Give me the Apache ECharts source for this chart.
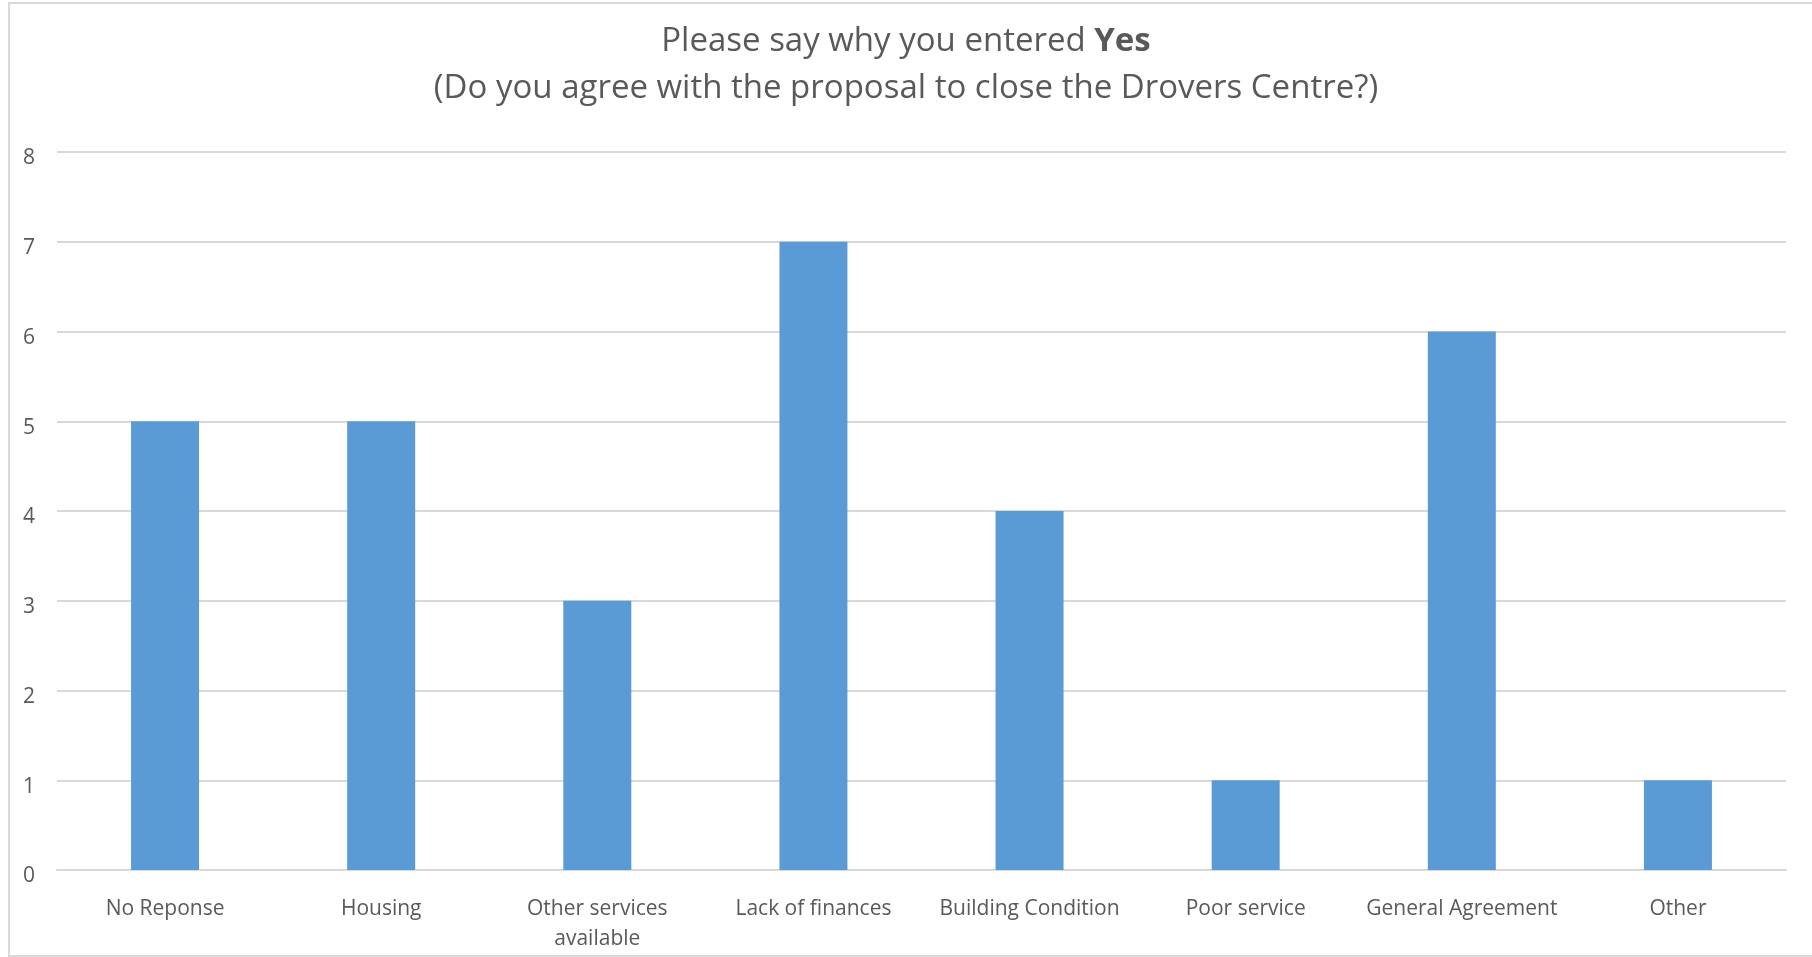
<!DOCTYPE html>
<html>
<head>
<meta charset="utf-8">
<script src="https://cdn.jsdelivr.net/npm/echarts@6/dist/echarts.min.js"></script>
<style>
html,body{margin:0;padding:0;background:#fff;}
#chart{width:1812px;height:957px;}
</style>
</head>
<body>
<div id="chart"></div>
<script>
const categories = ['No Reponse', 'Housing', 'Other services\navailable', 'Lack of finances', 'Building Condition', 'Poor service', 'General Agreement', 'Other'];
const values = [5, 5, 3, 7, 4, 1, 6, 1];
const titleLine1 = 'Please say why you entered ';
const titleBold = 'Yes';
const titleLine2 = '(Do you agree with the proposal to close the Drovers Centre?)';

const FONT = '"Open Sans", sans-serif';
const TEXT = '#595959';
const chart = echarts.init(document.getElementById('chart'), null, {renderer: 'canvas'});
chart.setOption({
  animation: false,
  backgroundColor: '#ffffff',
  graphic: [{
    type: 'rect',
    shape: {x: 9, y: 3, width: 1810, height: 953},
    style: {fill: 'none', stroke: '#d9d9d9', lineWidth: 2},
    silent: true,
    z: -10
  }],
  title: {
    left: 'center',
    top: 18,
    padding: 0,
    text: '{a|' + titleLine1 + '}{b|' + titleBold + '}\n{a|' + titleLine2 + '}',
    textStyle: {
      fontWeight: 'normal',
      rich: {
        a: {fontFamily: FONT, fontSize: 33, color: TEXT, fontWeight: 'normal', lineHeight: 47},
        b: {fontFamily: FONT, fontSize: 33, color: TEXT, fontWeight: 'bold', lineHeight: 47}
      }
    }
  },
  grid: {left: 57, right: 26, top: 152, bottom: 87, containLabel: false},
  xAxis: {
    type: 'category',
    data: categories,
    axisLine: {show: true, lineStyle: {color: '#d9d9d9', width: 2}},
    axisTick: {show: false},
    axisLabel: {
      interval: 0,
      color: TEXT,
      fontFamily: FONT,
      fontSize: 21,
      lineHeight: 30,
      margin: 24
    }
  },
  yAxis: {
    type: 'value',
    min: 0,
    max: 8,
    interval: 1,
    axisLine: {show: false},
    axisTick: {show: false},
    splitLine: {lineStyle: {color: '#d9d9d9', width: 2}},
    axisLabel: {
      color: TEXT,
      fontFamily: FONT,
      fontSize: 21,
      margin: 22,
      verticalAlign: 'top',
      lineHeight: 21,
      padding: [-4, 0, 0, 0]
    }
  },
  series: [{
    type: 'bar',
    data: values,
    barWidth: 68,
    itemStyle: {color: '#5B9BD5'}
  }]
});
</script>
</body>
</html>
